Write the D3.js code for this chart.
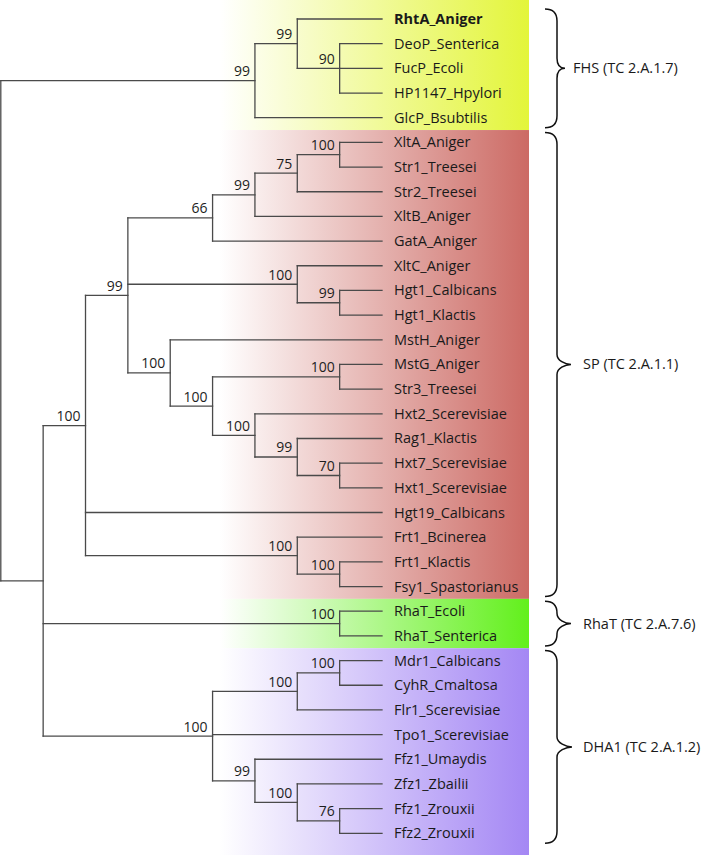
<!DOCTYPE html>
<html><head><meta charset="utf-8">
<script src="https://cdn.jsdelivr.net/npm/d3@7"></script>
<style>html,body{margin:0;padding:0;background:#fff}svg{display:block}</style>
</head><body><svg id="chart" width="703" height="855"></svg>
<script>
// ---- data ----
const treeNewick = "(((RhtA_Aniger,(DeoP_Senterica,FucP_Ecoli,HP1147_Hpylori)90)99,GlcP_Bsubtilis)99," +
  "(((((((XltA_Aniger,Str1_Treesei)100,Str2_Treesei)75,XltB_Aniger)99,GatA_Aniger)66," +
  "(XltC_Aniger,(Hgt1_Calbicans,Hgt1_Klactis)99)100," +
  "(MstH_Aniger,((MstG_Aniger,Str3_Treesei)100,(Hxt2_Scerevisiae,(Rag1_Klactis,(Hxt7_Scerevisiae,Hxt1_Scerevisiae)70)99)100)100)100)99," +
  "Hgt19_Calbicans,(Frt1_Bcinerea,(Frt1_Klactis,Fsy1_Spastorianus)100)100)100," +
  "(RhaT_Ecoli,RhaT_Senterica)100," +
  "(((Mdr1_Calbicans,CyhR_Cmaltosa)100,Flr1_Scerevisiae)100,Tpo1_Scerevisiae,(Ffz1_Umaydis,(Zfz1_Zbailii,(Ffz1_Zrouxii,Ffz2_Zrouxii)76)100)99)100));";
const groupLabels = ["FHS (TC 2.A.1.7)", "SP (TC 2.A.1.1)", "RhaT (TC 2.A.7.6)", "DHA1 (TC 2.A.1.2)"];
const groupFirstLeaf = ["RhtA_Aniger", "XltA_Aniger", "RhaT_Ecoli", "Mdr1_Calbicans"];
const groupLastLeaf = ["GlcP_Bsubtilis", "Fsy1_Spastorianus", "RhaT_Senterica", "Ffz2_Zrouxii"];
const boldLeaves = ["RhtA_Aniger"];

// ---- styles ----
const groupColors = ["#e3f53a", "#cc6a64", "#62f01c", "#a487f4"];
const braceTipX = [565, 571, 571, 572];
const braceLabelX = [573, 583, 583, 583];
const FONT = "'Open Sans', 'Noto Sans', sans-serif";
const W = 703, H = 855;

function parseNewick(str) {
  str = str.replace(/\s+/g, "");
  let i = 0;
  function node() {
    const n = {};
    if (str[i] === "(") {
      i++; n.children = [node()];
      while (str[i] === ",") { i++; n.children.push(node()); }
      i++;
    }
    let lab = "";
    while (i < str.length && !",();".includes(str[i])) lab += str[i++];
    if (n.children) n.support = lab || null; else n.name = lab;
    return n;
  }
  return node();
}

const root = d3.hierarchy(parseNewick(treeNewick));
d3.cluster().size([1, 1]).separation(() => 1)(root);
// internal nodes centred between first and last child
root.eachAfter(n => { if (n.children) n.x = (n.children[0].x + n.children[n.children.length - 1].x) / 2; });

const leaves = root.leaves();
const nLeaves = leaves.length;
const yScale = d3.scaleLinear().domain([0.5 / nLeaves, (nLeaves - 0.5) / nLeaves]).range([19, 833.3]);
const xScale = d3.scaleLinear().domain([0, 1]).range([0.8, 382]);
const leafY = name => yScale(leaves.find(l => l.data.name === name).x);

const svg = d3.select("#chart");
const defs = svg.append("defs");

// ---- bands ----
const bandX0 = 220, bandX1 = 529;
groupLabels.forEach((g, i) => {
  const grad = defs.append("linearGradient").attr("id", "grad" + i)
    .attr("gradientUnits", "userSpaceOnUse").attr("x1", bandX0).attr("x2", bandX1).attr("y1", 0).attr("y2", 0);
  grad.append("stop").attr("offset", 0).attr("stop-color", "#ffffff");
  grad.append("stop").attr("offset", 1).attr("stop-color", groupColors[i]);
  const top = i === 0 ? 0 : (leafY(groupLastLeaf[i - 1]) + leafY(groupFirstLeaf[i])) / 2;
  const bottom = i === groupLabels.length - 1 ? H : (leafY(groupLastLeaf[i]) + leafY(groupFirstLeaf[i + 1])) / 2;
  svg.append("rect").attr("x", 0).attr("y", top).attr("width", bandX1).attr("height", bottom - top)
    .attr("fill", `url(#grad${i})`);
});

// ---- branches ----
const gLinks = svg.append("g").attr("stroke", "#4a4a4a").attr("stroke-width", 1.3).attr("fill", "none")
  .attr("stroke-linecap", "square");
root.descendants().forEach(n => {
  if (n.parent) {
    gLinks.append("line").attr("x1", xScale(n.parent.y)).attr("x2", xScale(n.y))
      .attr("y1", yScale(n.x)).attr("y2", yScale(n.x));
  }
  if (n.children) {
    gLinks.append("line").attr("x1", xScale(n.y)).attr("x2", xScale(n.y))
      .attr("y1", yScale(n.children[0].x)).attr("y2", yScale(n.children[n.children.length - 1].x));
  }
});

// ---- support values ----
svg.append("g").selectAll("text").data(root.descendants().filter(n => n.children && n.data.support))
  .join("text")
  .attr("x", d => xScale(d.y) - 5).attr("y", d => yScale(d.x) - 4.5)
  .attr("text-anchor", "end").attr("font-family", FONT).attr("font-size", 14).attr("fill", "#1e1e1e")
  .text(d => d.data.support);

// ---- leaf labels ----
svg.append("g").selectAll("text").data(leaves).join("text")
  .attr("x", 394).attr("y", d => yScale(d.x) + 5)
  .attr("font-family", FONT).attr("font-size", 14.5).attr("fill", "#1a1a1a")
  .attr("font-weight", d => boldLeaves.includes(d.data.name) ? "bold" : "normal")
  .text(d => d.data.name);

// ---- braces ----
const bodyX = 557, endX = 545;
groupLabels.forEach((g, i) => {
  const top = leafY(groupFirstLeaf[i]) - 10;
  const bottom = leafY(groupLastLeaf[i]) + 10;
  const mid = (top + bottom) / 2;
  const tip = braceTipX[i];
  const p = d3.path();
  p.moveTo(endX, top);
  p.bezierCurveTo(bodyX - 4, top, bodyX, top + 4, bodyX, top + 12);
  p.lineTo(bodyX, mid - 10);
  p.bezierCurveTo(bodyX, mid - 4, tip - 6, mid, tip, mid);
  p.bezierCurveTo(tip - 6, mid, bodyX, mid + 4, bodyX, mid + 10);
  p.lineTo(bodyX, bottom - 12);
  p.bezierCurveTo(bodyX, bottom - 4, bodyX - 4, bottom, endX, bottom);
  svg.append("path").attr("d", p.toString()).attr("fill", "none").attr("stroke", "#111").attr("stroke-width", 1.5);
  svg.append("text").attr("x", braceLabelX[i]).attr("y", mid + 5)
    .attr("font-family", FONT).attr("font-size", 14.5).attr("fill", "#1a1a1a").text(g);
});
</script></body></html>
